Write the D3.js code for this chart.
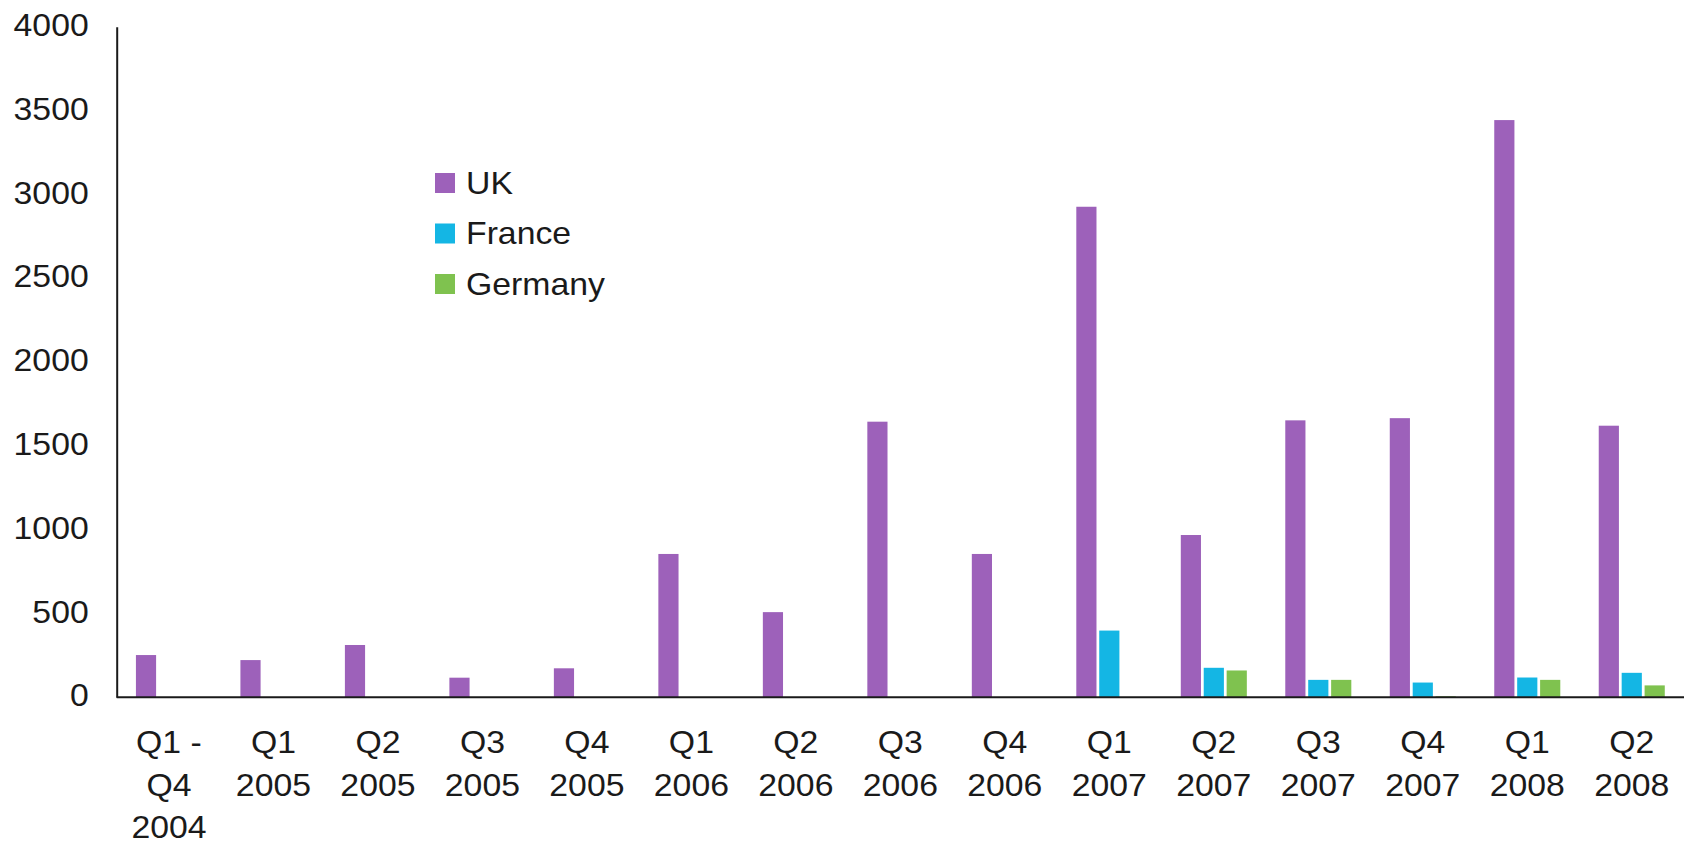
<!DOCTYPE html>
<html>
<head>
<meta charset="utf-8">
<script src="https://cdn.jsdelivr.net/npm/d3@7"></script>
<style>
  html, body { margin: 0; padding: 0; background: #ffffff; }
  svg { display: block; font-family: "Liberation Sans", Arial, sans-serif; }
</style>
</head>
<body>
<svg id="chart" width="1690" height="846"></svg>
<script>
// Quarterly figures by country
const categories = [
  "Q1 -\nQ4\n2004", "Q1\n2005", "Q2\n2005", "Q3\n2005", "Q4\n2005",
  "Q1\n2006", "Q2\n2006", "Q3\n2006", "Q4\n2006",
  "Q1\n2007", "Q2\n2007", "Q3\n2007", "Q4\n2007",
  "Q1\n2008", "Q2\n2008"
];
const seriesNames = ["UK", "France", "Germany"];
const ukValues      = [252, 222, 312, 117, 173, 855, 508, 1644, 855, 2926, 968, 1652, 1665, 3443, 1620];
const franceValues  = [0, 0, 0, 0, 0, 0, 0, 0, 0, 398, 176, 104, 88, 118, 146];
const germanyValues = [0, 0, 0, 0, 0, 0, 0, 0, 0, 0, 160, 104, 6, 104, 71];
const yTicks = [0, 500, 1000, 1500, 2000, 2500, 3000, 3500, 4000];
const colors = ["#9d61ba", "#14b6e4", "#7fc24f"];

const series = [ukValues, franceValues, germanyValues];
const rows = categories.map((c, i) => ({
  cat: c,
  vals: seriesNames.map((s, k) => ({ key: s, value: series[k][i] }))
}));

const FONT = "'Liberation Sans', Arial, sans-serif";
const FONT_SIZE = 31;
const STRETCH = 1.09;   // slightly wide lettering

const svg = d3.select("#chart");
const plotLeft = 116.7, plotRight = 1684, plotTop = 26.7, plotBottom = 697.3;

const x0 = d3.scaleBand()
  .domain(categories)
  .range([plotLeft, plotRight])
  .paddingInner(0.368)
  .paddingOuter(0.184);

const x1 = d3.scaleBand()
  .domain(seriesNames)
  .range([0, x0.bandwidth()])
  .paddingInner(0.12);

const y = d3.scaleLinear().domain([0, 4000]).range([plotBottom, plotTop]);
const color = d3.scaleOrdinal().domain(seriesNames).range(colors);

// Bars
svg.append("g")
  .selectAll("g")
  .data(rows)
  .join("g")
  .attr("transform", d => `translate(${x0(d.cat)},0)`)
  .selectAll("rect")
  .data(d => d.vals.filter(v => v.value > 0))
  .join("rect")
  .attr("x", d => x1(d.key))
  .attr("width", x1.bandwidth())
  .attr("y", d => y(d.value))
  .attr("height", d => y(0) - y(d.value))
  .attr("fill", d => color(d.key));

// Y axis
const yAxis = svg.append("g")
  .attr("transform", `translate(${plotLeft},0)`)
  .call(d3.axisLeft(y).tickValues(yTicks).tickSize(0).tickSizeOuter(0).tickPadding(28).tickFormat(d3.format("d")));
yAxis.select(".domain").attr("stroke", "#1a1a1a").attr("stroke-width", 2);
yAxis.selectAll("text").each(function() {
  const t = d3.select(this);
  const tx = +t.attr("x");
  t.attr("x", 0)
    .attr("transform", `translate(${tx},0) scale(${STRETCH},1)`)
    .attr("font-size", FONT_SIZE)
    .attr("fill", "#1a1a1a")
    .attr("font-family", FONT)
    .attr("dy", "0.28em");
});

// X axis
const xAxis = svg.append("g")
  .attr("transform", `translate(0,${plotBottom})`)
  .call(d3.axisBottom(x0).tickSize(0).tickSizeOuter(0).tickFormat(""));
xAxis.select(".domain")
  .attr("d", `M${plotLeft},0H${plotRight}`)
  .attr("stroke", "#1a1a1a").attr("stroke-width", 2);
xAxis.selectAll(".tick").each(function(d) {
  const lines = d.split("\n");
  const t = d3.select(this).select("text")
    .attr("font-size", FONT_SIZE)
    .attr("fill", "#1a1a1a")
    .attr("font-family", FONT)
    .attr("transform", `scale(${STRETCH},1)`)
    .attr("y", 0)
    .attr("dy", null);
  t.selectAll("tspan")
    .data(lines)
    .join("tspan")
    .attr("x", 0)
    .attr("y", (l, i) => 56 + i * 42.5)
    .text(l => l);
});

// Legend
const legend = svg.append("g").attr("transform", "translate(435,173)");
const item = legend.selectAll("g")
  .data(seriesNames)
  .join("g")
  .attr("transform", (d, i) => `translate(0,${i * 50.5})`);
item.append("rect")
  .attr("width", 20).attr("height", 20)
  .attr("fill", d => color(d));
item.append("text")
  .attr("transform", `translate(31,10) scale(${STRETCH},1)`)
  .attr("dy", "0.35em")
  .attr("font-size", FONT_SIZE)
  .attr("font-family", FONT)
  .attr("fill", "#1a1a1a")
  .text(d => d);
</script>
</body>
</html>
